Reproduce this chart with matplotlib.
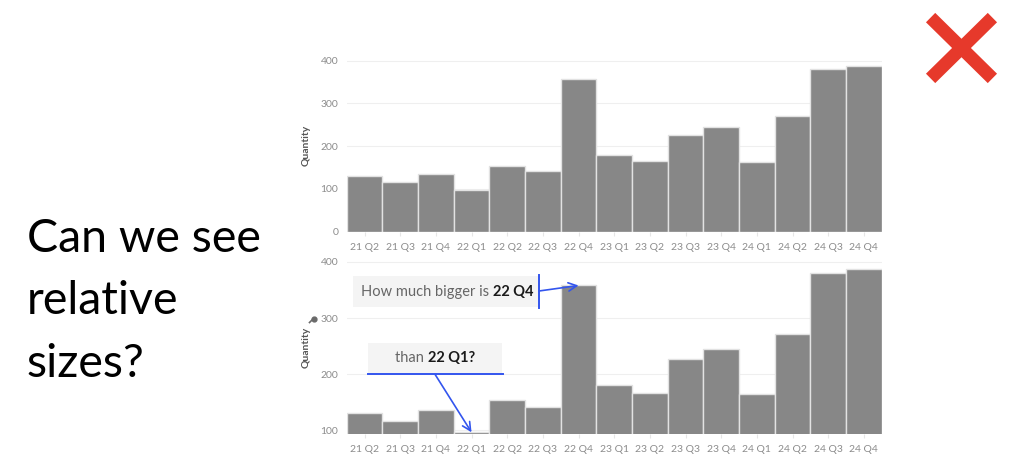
import matplotlib
matplotlib.use("Agg")
import matplotlib.pyplot as plt
from matplotlib.patches import Rectangle, FancyArrowPatch
from matplotlib.lines import Line2D

# ---------------- data ----------------
quarters = ["21 Q2", "21 Q3", "21 Q4", "22 Q1", "22 Q2", "22 Q3", "22 Q4",
            "23 Q1", "23 Q2", "23 Q3", "23 Q4", "24 Q1", "24 Q2", "24 Q3", "24 Q4"]
quantity = [131, 117, 136, 96.5, 154, 141, 358, 180, 166, 227, 244, 164, 271, 380, 388]
top_yticks = [0, 100, 200, 300, 400]
bottom_yticks = [100, 200, 300, 400]
question_lines = ["Can we see", "relative", "sizes?"]
ann1_plain, ann1_bold = "How much bigger is ", "22 Q4"
ann2_plain, ann2_bold = "than ", "22 Q1?"
big_idx, small_idx = quarters.index("22 Q4"), quarters.index("22 Q1")

W, H = 1024, 476
fig = plt.figure(figsize=(W / 100, H / 100), dpi=100)
fig.patch.set_facecolor("white")

def fx(px):
    return px / W

def fy(py):
    return 1 - py / H

BAR = "#878787"
TICK = "#8c8c8c"
BLUE = "#3355ee"
FONT = "Lato"

def style_axes(ax, yticks, ylim):
    x = list(range(len(quarters)))
    ax.bar(x, quantity, width=1.0, color=BAR, edgecolor="#e2e2e2", linewidth=1.0, zorder=2)
    ax.set_xlim(-0.5, len(quarters) - 0.5)
    ax.set_ylim(*ylim)
    ax.set_yticks(yticks)
    ax.set_xticks(x)
    ax.set_xticklabels(quarters)
    for s in ax.spines.values():
        s.set_visible(False)
    ax.tick_params(axis="x", length=3, color="#e6e6e6", labelsize=7.5, labelcolor=TICK, pad=5)
    ax.tick_params(axis="y", length=0, labelsize=7.5, labelcolor=TICK, pad=6)
    for lab in ax.get_xticklabels() + ax.get_yticklabels():
        lab.set_fontfamily(FONT)
    ax.grid(axis="y", color="#efefef", linewidth=0.8, zorder=0)
    ax.set_axisbelow(True)
    ax.set_ylabel("Quantity", fontsize=7.5, color="#555555", fontfamily=FONT,
                  fontweight="bold", labelpad=7)

# top chart
ax1 = fig.add_axes([fx(346.7), fy(231.7), fx(535), (231.7 - 59) / H])
style_axes(ax1, top_yticks, (0, 404))

# bottom chart
ax2 = fig.add_axes([fx(346.7), fy(434), fx(535), (434 - 260.5) / H])
style_axes(ax2, bottom_yticks, (93.5, 402.5))

# pin icon near bottom y label
fig.add_artist(Line2D([fx(309.5), fx(313.5)], [fy(322.5), fy(318.5)],
                      color="#6a6a6a", linewidth=1.2))
fig.add_artist(Line2D([fx(313.5)], [fy(318.5)], marker="o", markersize=3.5,
                      color="#6a6a6a"))

# left question text
for i, line in enumerate(question_lines):
    fig.text(fx(27), fy(252 + i * 62.5), line, fontsize=33.5, fontfamily=FONT,
             color="black", ha="left", va="baseline")

# red X
for (x0, y0, x1, y1) in [(930.6, 17.6, 992.4, 78.4), (930.6, 78.4, 992.4, 17.6)]:
    fig.add_artist(Line2D([fx(x0), fx(x1)], [fy(y0), fy(y1)], color="#e6392b",
                          linewidth=9.5, solid_capstyle="butt"))

# annotation boxes
fig.add_artist(Rectangle((fx(353), fy(307)), fx(538 - 353), (307 - 276) / H,
                         facecolor="#f4f4f4", edgecolor="none", zorder=3))
fig.add_artist(Rectangle((fx(368), fy(374)), fx(502 - 368), (374 - 343) / H,
                         facecolor="#f4f4f4", edgecolor="none", zorder=3))

fig.canvas.draw()
renderer = fig.canvas.get_renderer()

def two_part(x_px, y_px, plain, bold, center=False):
    t1 = fig.text(fx(x_px), fy(y_px), plain, fontsize=10.5, fontfamily=FONT,
                  color="#666666", ha="left", va="center", zorder=4)
    t2 = fig.text(0, fy(y_px), bold, fontsize=10.5, fontfamily=FONT,
                  fontweight="bold", color="#1a1a1a", ha="left", va="center", zorder=4)
    w1 = t1.get_window_extent(renderer).width
    w2 = t2.get_window_extent(renderer).width
    if center:
        start = x_px - (w1 + w2) / 2
        t1.set_x(fx(start))
    else:
        start = x_px
    t2.set_x(fx(start + w1))

two_part(361, 292, ann1_plain, ann1_bold)
two_part(435, 358, ann2_plain, ann2_bold, center=True)

# blue marker lines
fig.add_artist(Line2D([fx(539), fx(539)], [fy(275), fy(308)], color=BLUE, linewidth=1.4, zorder=5))
fig.add_artist(Line2D([fx(368), fx(503)], [fy(374.3), fy(374.3)], color=BLUE, linewidth=1.4, zorder=5))

# arrows pointing to bar tops
inv = fig.transFigure.inverted()
tgt1 = inv.transform(ax2.transData.transform((big_idx, quantity[big_idx])))
tgt2 = inv.transform(ax2.transData.transform((small_idx, quantity[small_idx])))
for start, tgt in [((fx(539), fy(291)), tgt1), ((fx(435), fy(374.3)), tgt2)]:
    arr = FancyArrowPatch(posA=start, posB=tuple(tgt), transform=fig.transFigure,
                          arrowstyle="->,head_length=6,head_width=3",
                          color=BLUE, linewidth=1.2, shrinkA=0, shrinkB=0, zorder=5)
    fig.add_artist(arr)

fig.savefig("out.png", dpi=100, facecolor="white")
